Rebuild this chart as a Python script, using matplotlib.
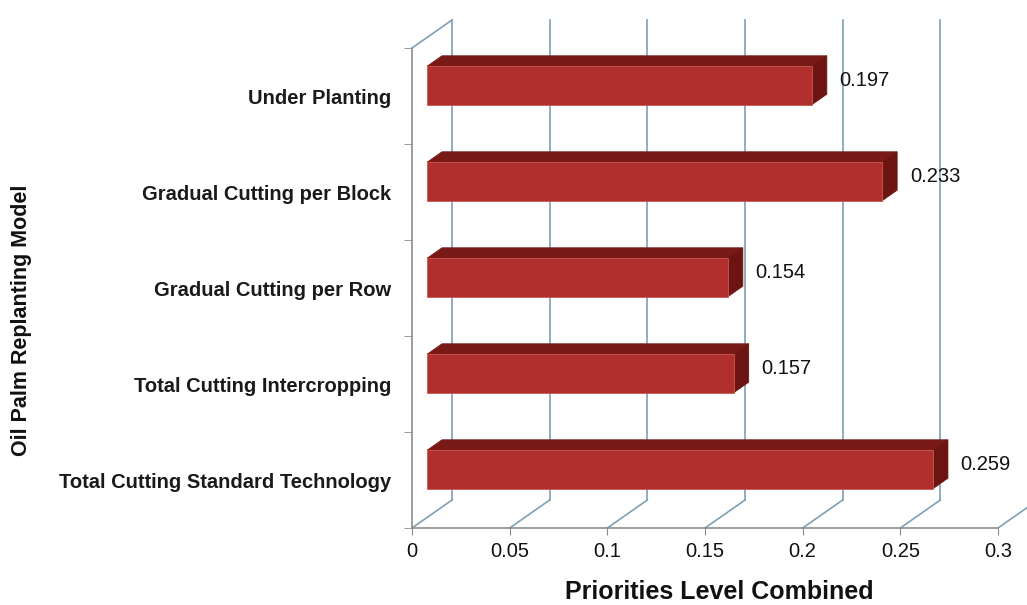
import matplotlib
matplotlib.use("Agg")
import matplotlib.pyplot as plt
from matplotlib.patches import Polygon

plt.rcParams['font.family'] = ['Liberation Sans', 'DejaVu Sans']

categories = ["Total Cutting Standard Technology", "Total Cutting Intercropping",
              "Gradual Cutting per Row", "Gradual Cutting per Block", "Under Planting"]
values = [0.259, 0.157, 0.154, 0.233, 0.197]
value_labels = ["0.259", "0.157", "0.154", "0.233", "0.197"]
x_ticks = [0, 0.05, 0.1, 0.15, 0.2, 0.25, 0.3]
x_tick_labels = ["0", "0.05", "0.1", "0.15", "0.2", "0.25", "0.3"]

fig = plt.figure(figsize=(10.27, 6.05), dpi=100)
ax = fig.add_axes([412/1027, 1-528/605, 586/1027, 480/605])
ax.set_xlim(0, 0.3)
ax.set_ylim(-0.5, 4.5)
for s in ax.spines.values():
    s.set_visible(False)

DX = 40/1953.3
DY = 28/96.0
grid_c = '#7FA0B4'
axis_c = '#8C8C8C'

# back wall gridlines and floor diagonals
for t in x_ticks:
    ax.plot([t+DX, t+DX], [-0.5+DY, 4.5+DY], color=grid_c, lw=1.2, clip_on=False, zorder=1)
    ax.plot([t, t+DX], [-0.5, -0.5+DY], color=grid_c, lw=1.2, clip_on=False, zorder=1)
# left wall
ax.plot([0, 0], [-0.5, 4.5], color=axis_c, lw=1.2, clip_on=False, zorder=1)
ax.plot([0, DX], [4.5, 4.5+DY], color=grid_c, lw=1.2, clip_on=False, zorder=1)
# front floor edge
ax.plot([0, 0.3], [-0.5, -0.5], color=axis_c, lw=1.2, clip_on=False, zorder=1)

front_c = '#B02E2B'
top_c = '#7A1A17'
side_c = '#6B1411'
h = 0.2
d0, d1 = 0.375, 0.75
for i, v in enumerate(values):
    x0f, y0f = d0*DX, d0*DY
    x0b, y0b = d1*DX, d1*DY
    front = Polygon([(x0f, i-h+y0f), (v+x0f, i-h+y0f), (v+x0f, i+h+y0f), (x0f, i+h+y0f)],
                    closed=True, facecolor=front_c, edgecolor='#C85A50', lw=0.6, zorder=5, clip_on=False)
    top = Polygon([(x0f, i+h+y0f), (v+x0f, i+h+y0f), (v+x0b, i+h+y0b), (x0b, i+h+y0b)],
                  closed=True, facecolor=top_c, edgecolor=top_c, lw=0.6, zorder=4, clip_on=False)
    side = Polygon([(v+x0f, i-h+y0f), (v+x0b, i-h+y0b), (v+x0b, i+h+y0b), (v+x0f, i+h+y0f)],
                   closed=True, facecolor=side_c, edgecolor=side_c, lw=0.6, zorder=4, clip_on=False)
    for p in (top, side, front):
        ax.add_patch(p)
    ax.text(v + d1*DX + 0.0065, i + 0.16, value_labels[i], fontsize=14.5, color='#111111',
            ha='left', va='center', zorder=6)

ax.set_xticks(x_ticks)
ax.set_xticklabels(x_tick_labels, fontsize=14.5)
ax.tick_params(axis='x', length=5, color=axis_c, pad=5, labelcolor='#111111')
ax.set_yticks(range(len(categories)))
ax.set_yticklabels(categories, fontsize=14.5, fontweight='bold')
ax.tick_params(axis='y', which='major', length=0, pad=15, labelcolor='#1a1a1a')
ax.set_yticks([-0.5, 0.5, 1.5, 2.5, 3.5, 4.5], minor=True)
ax.tick_params(axis='y', which='minor', length=6, color=axis_c)

fig.text(719/1027, 1-592/605, "Priorities Level Combined", fontsize=18, fontweight='bold',
         ha='center', va='center', color='#111111')
fig.text(22/1027, 1-320/605, "Oil Palm Replanting Model", fontsize=15.5, fontweight='bold',
         rotation=90, ha='center', va='center', color='#111111')

fig.savefig("out.png", dpi=100)
